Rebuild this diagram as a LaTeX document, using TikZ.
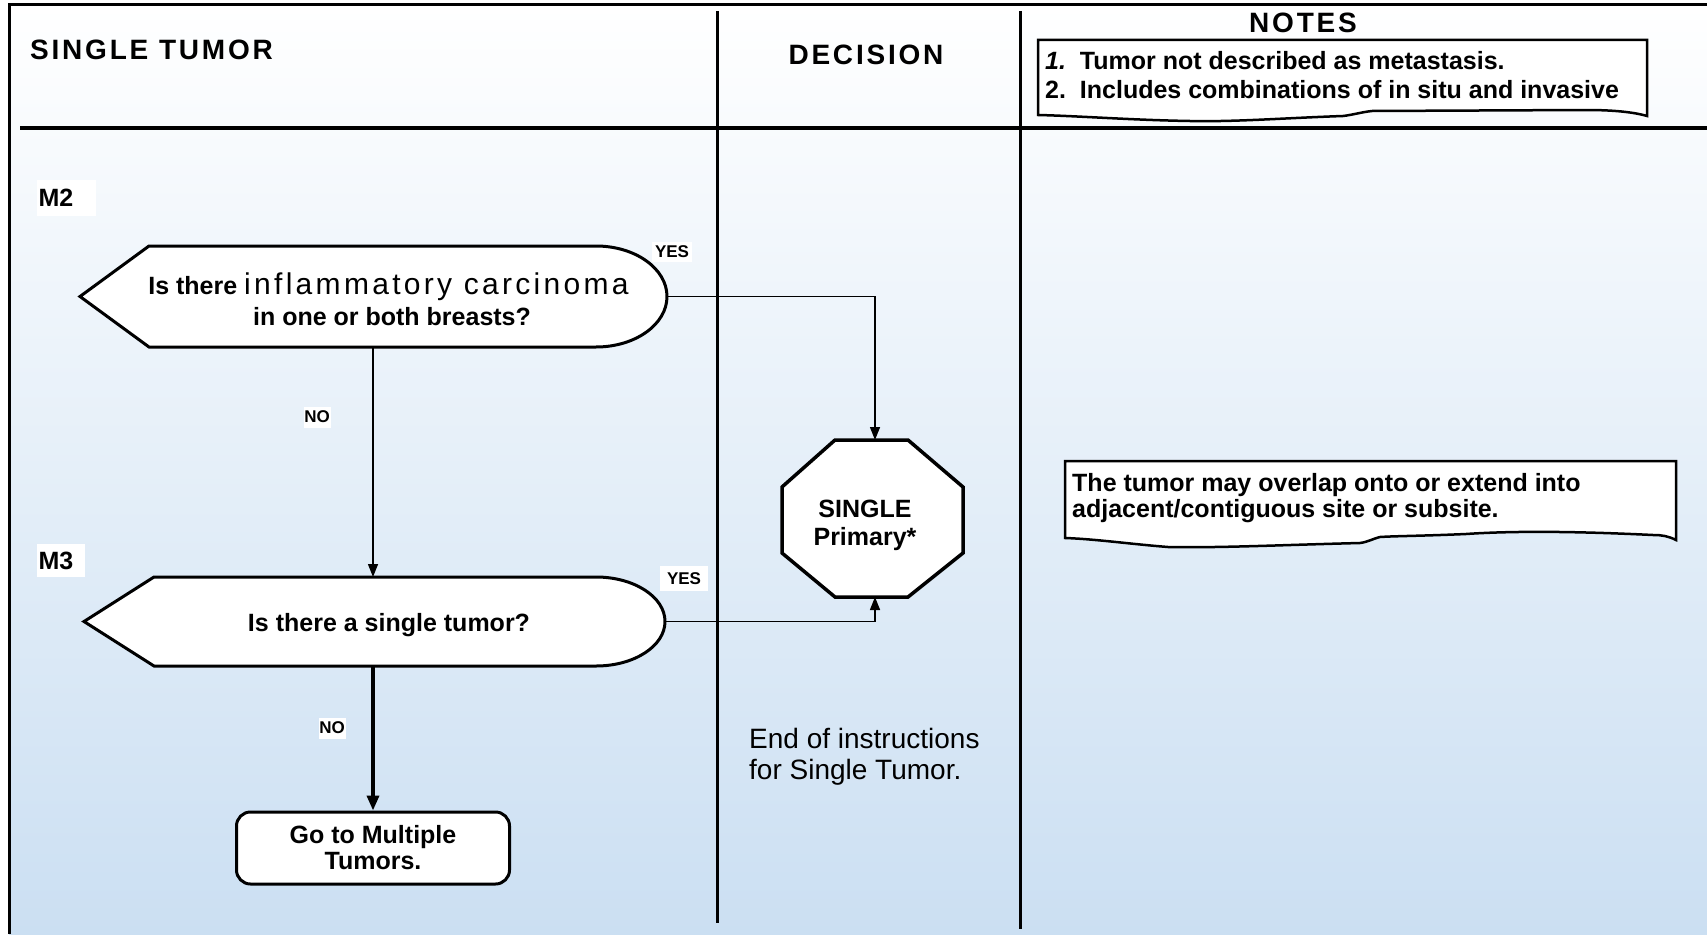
\documentclass[tikz,border=0pt]{standalone}
\usepackage{fontspec}
\setmainfont{Liberation Sans}
\newfontfamily\headfont[LetterSpace=10]{Liberation Sans}
\newfontfamily\wideregular[LetterSpace=11]{Liberation Sans}
\usetikzlibrary{arrows.meta}

\definecolor{bgtop}{RGB}{255,255,255}
\definecolor{bgbot}{RGB}{203,223,242}

\tikzset{
  lane/.style={line width=3pt},
  shapeline/.style={draw=black, line width=3pt, fill=white, line join=miter},
  notebox/.style={draw=black, line width=2.5pt, fill=white},
  flow/.style={line width=1.4pt, -{Triangle[length=13pt,width=10pt]}},
  flowthick/.style={line width=3.5pt, -{Triangle[length=15pt,width=12pt]}},
  headtext/.style={font=\headfont\fontsize{28}{30}\selectfont\bfseries, inner sep=0pt},
  bodytext/.style={font=\fontsize{25}{27}\selectfont\bfseries, align=center, inner sep=0pt},
  notetext/.style={font=\fontsize{25}{29}\selectfont\bfseries, inner sep=0pt, anchor=west},
  tagtext/.style={font=\fontsize{17}{19}\selectfont\bfseries, fill=white, inner sep=0pt},
  steplabel/.style={font=\fontsize{25}{27}\selectfont\bfseries, fill=white, inner sep=0pt},
}

\begin{document}
\begin{tikzpicture}[x=1pt,y=-1pt]
\useasboundingbox (0,0) rectangle (1707,934);

% background and swim-lane frame
\shade[top color=bgtop, bottom color=bgbot] (9,5) rectangle (1707,934);
\draw[lane] (9,934) -- (9,5) -- (1707,5);
\draw[lane, line width=3.5pt] (20,128) -- (1707,128);
\draw[lane] (717,11) -- (717,923);
\draw[lane] (1020,11) -- (1020,929);

% lane headings
\node[headtext, anchor=west] (hsingle) at (30,50) {SINGLE TUMOR};
\node[headtext] (hdecision) at (866,55) {DECISION};
\node[headtext] (hnotes) at (1303,23) {NOTES};

% notes box
\draw[notebox] (1038,40) -- (1647,40) -- (1647,116)
  .. controls (1630,111) and (1605,110) .. (1586,110)
  -- (1372,111)
  .. controls (1362,112) and (1352,115) .. (1343,116)
  .. controls (1285,118) and (1235,122) .. (1190,121)
  .. controls (1130,120) and (1080,116) .. (1038,115) -- cycle;
\node[notetext] (note1) at (1045,61) {\textit{1.}\ \ Tumor not described as metastasis.};
\node[notetext] (note2) at (1045,90) {2.\ \ Includes combinations of in situ and invasive};

% second note
\draw[notebox] (1065,461) -- (1676,461) -- (1676,540)
  .. controls (1668,536) and (1662,535) .. (1653,535)
  .. controls (1570,531) and (1510,531) .. (1466,534)
  .. controls (1420,536) and (1395,536) .. (1380,537)
  .. controls (1372,539) and (1368,542) .. (1360,543)
  .. controls (1280,545) and (1220,548) .. (1168,547)
  .. controls (1130,544) and (1095,539) .. (1065,538) -- cycle;
\node[notetext] (note3) at (1072,485) {The tumor may overlap onto or extend into};
\node[notetext] (note4) at (1072,511) {adjacent/contiguous site or subsite.};

% rule labels
\node[steplabel, minimum width=59pt, minimum height=36pt, text width=56pt, align=left] (m2) at (66.5,198) {M2};
\node[steplabel, minimum width=48pt, minimum height=33pt, text width=45pt, align=left] (m3) at (61,560.5) {M3};

% decision M2
\draw[shapeline] (80,296.5) -- (149,246) -- (596,246)
  .. controls (635.2,246) and (667,268.6) .. (667,296.5)
  .. controls (667,324.4) and (635.2,347) .. (596,347)
  -- (149,347) -- cycle;
\coordinate (d1e) at (667,296.5);
\coordinate (d1s) at (373,347);
\node[font=\fontsize{25}{30}\selectfont, inner sep=0pt] (d1a) at (388.5,287)
  {\bfseries Is there {\wideregular\mdseries\fontsize{30}{30}\selectfont inflammatory carcinoma}};
\node[bodytext] (d1b) at (392,317) {in one or both breasts?};

% decision M3
\draw[shapeline] (84,621.5) -- (154,577) -- (596,577)
  .. controls (634.1,577) and (665,596.9) .. (665,621.5)
  .. controls (665,646.1) and (634.1,666) .. (596,666)
  -- (154,666) -- cycle;
\coordinate (d2n) at (373,577);
\coordinate (d2e) at (665,621.5);
\coordinate (d2s) at (373,666);
\node[bodytext] (d2t) at (389,625) {Is there a single tumor?};

% single primary stop sign
\draw[shapeline, line width=3.5pt] (835,440) -- (908,440) -- (963,487) -- (963,553)
  -- (908,597) -- (835,597) -- (782,553) -- (782,487) -- cycle;
\coordinate (octn) at (875,440);
\coordinate (octs) at (875,597);
\node[bodytext, font=\fontsize{25}{28}\selectfont\bfseries] (single) at (865,525) {SINGLE\\Primary*};

% exit to multiple tumors
\node[draw, line width=3pt, fill=white, rounded corners=14pt,
      minimum width=273pt, minimum height=72pt, bodytext, font=\fontsize{25}{26}\selectfont\bfseries,
      inner sep=0pt] (goto) at (373,848) {Go to Multiple\\Tumors.};

% connectors
\draw[flow] (d1e) -| (octn);
\draw[flow] (d2e) -| (octs);
\draw[flow] (d1s) -- (d2n);
\draw[flowthick] (d2s) -- (goto.north);

% branch labels
\node[tagtext, minimum width=40pt, minimum height=20pt] (yes1) at (672,252) {YES};
\node[tagtext, minimum width=48pt, minimum height=25pt] (yes2) at (684,578.5) {YES};
\node[tagtext, minimum width=27pt, minimum height=21pt] (no1) at (317,417) {NO};
\node[tagtext, minimum width=27pt, minimum height=21pt] (no2) at (332,728) {NO};

% closing remark
\node[font=\fontsize{28}{31}\selectfont, align=left, anchor=west, inner sep=0pt] (endnote) at (749,756.5)
  {End of instructions\\for Single Tumor.};
\end{tikzpicture}
\end{document}
